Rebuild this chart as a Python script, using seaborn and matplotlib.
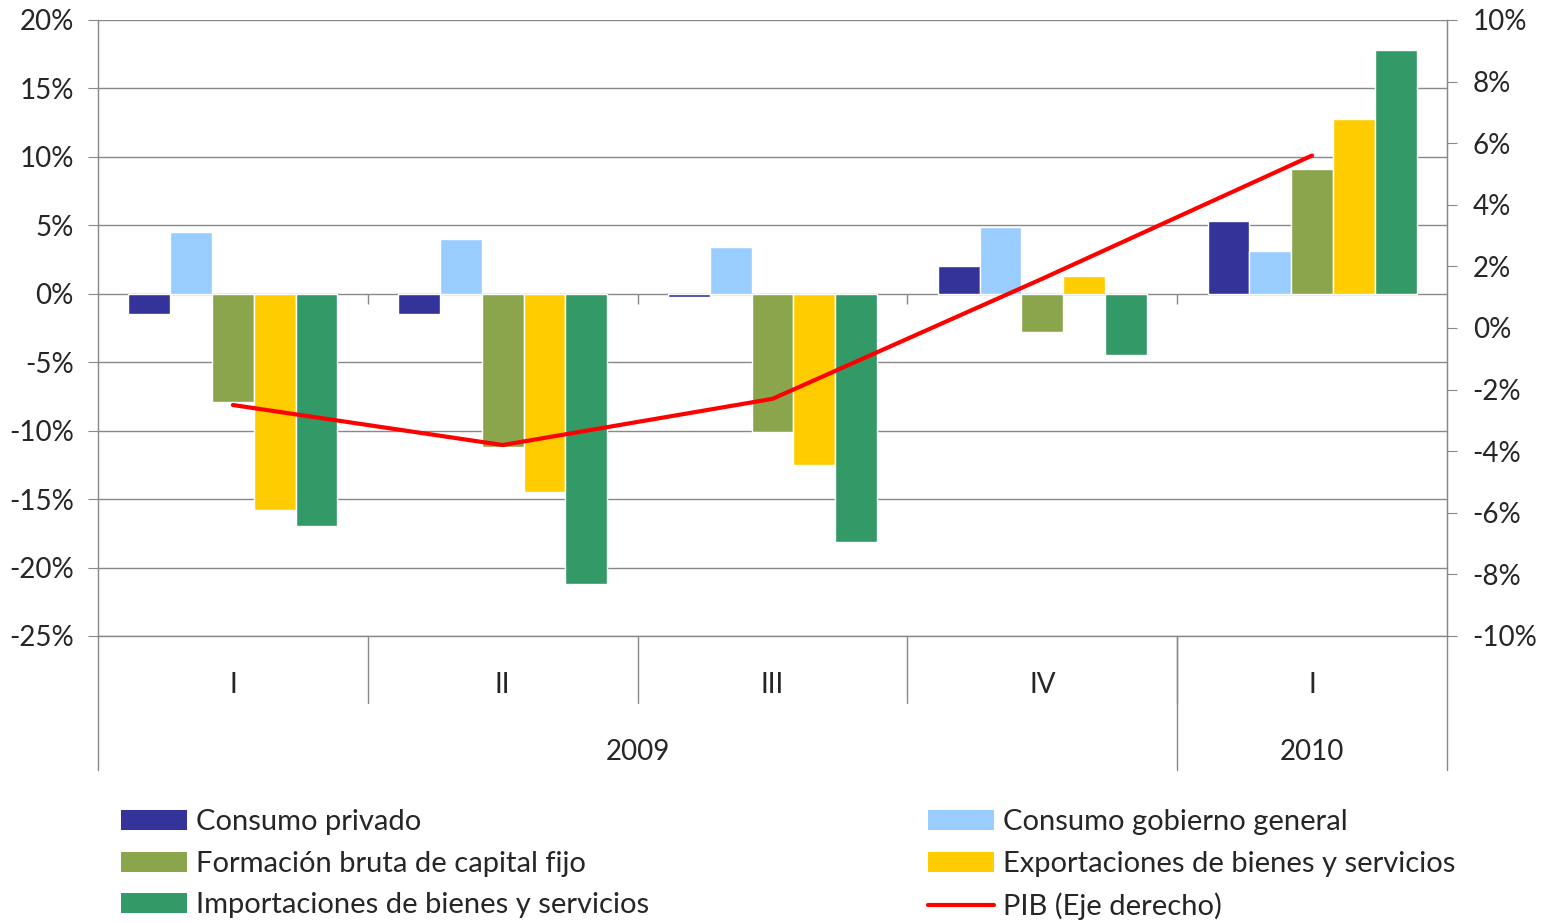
import matplotlib.pyplot as plt
import matplotlib.transforms as mtransforms
from matplotlib.patches import Patch
from matplotlib.lines import Line2D
from matplotlib.ticker import FuncFormatter
import numpy as np
import pandas as pd
import seaborn as sns

# datos (variación %)
trimestres = ["I", "II", "III", "IV", "I"]
anios = ["2009", "2009", "2009", "2009", "2010"]
consumo_privado = [-1.5, -1.5, -0.2, 2.0, 5.3]
consumo_gobierno = [4.5, 4.0, 3.4, 4.9, 3.1]
fbcf = [-7.9, -11.2, -10.1, -2.8, 9.1]
exportaciones = [-15.8, -14.5, -12.5, 1.3, 12.8]
importaciones = [-17.0, -21.2, -18.1, -4.5, 17.8]
pib = [-2.5, -3.8, -2.3, 1.6, 5.6]

series = ["Consumo privado", "Consumo gobierno general", "Formación bruta de capital fijo",
          "Exportaciones de bienes y servicios", "Importaciones de bienes y servicios"]
valores = [consumo_privado, consumo_gobierno, fbcf, exportaciones, importaciones]
colores = ["#333399", "#99CCFF", "#8BA54D", "#FFCC00", "#339966"]

periodos = [f"{a}-{t}" for a, t in zip(anios, trimestres)]
rows = []
for s, vals in zip(series, valores):
    for p, v in zip(periodos, vals):
        rows.append({"periodo": p, "serie": s, "valor": v})
df = pd.DataFrame(rows)

sns.set_style("white")
plt.rcParams["font.family"] = ["Lato", "DejaVu Sans"]
FS = 20
GRIS = "#888888"

fig = plt.figure(figsize=(15.56, 9.23), dpi=100)
ax = fig.add_axes([98 / 1556, 1 - 636 / 923, (1447 - 98) / 1556, (636 - 20) / 923])

sns.barplot(data=df, x="periodo", y="valor", hue="serie", order=periodos, hue_order=series,
            palette=dict(zip(series, colores)), width=0.775, gap=0, saturation=1,
            errorbar=None, legend=False, ax=ax)
ax.set_xlim(-0.5, len(periodos) - 0.5)
ax.set_ylim(-25, 20)
ax.set_yticks(np.arange(-25, 21, 5))
ax.yaxis.set_major_formatter(FuncFormatter(lambda v, _: f"{v:.0f}%"))
ax.set_xticks([])
ax.set_xlabel("")
ax.set_ylabel("")
ax.grid(axis="y", color=GRIS, lw=1)
ax.set_axisbelow(True)
ax.spines["top"].set_visible(False)
for side in ["left", "right", "bottom"]:
    ax.spines[side].set_color(GRIS)
    ax.spines[side].set_linewidth(1)
ax.tick_params(axis="y", labelsize=FS, length=7.5, color=GRIS, pad=10, left=True)

# marcas del eje de categorías en y=0
bordes = np.arange(0.5, len(periodos) - 1, 1)
ax.vlines(bordes, -0.75, 0, color=GRIS, lw=1)

# eje secundario: PIB
ax2 = ax.twinx()
sns.lineplot(x=np.arange(len(pib)), y=pib, color="#FF0000", lw=3, ax=ax2)
ax2.set_ylim(-10, 10)
ax2.set_yticks(np.arange(-10, 11, 2))
ax2.yaxis.set_major_formatter(FuncFormatter(lambda v, _: f"{v:.0f}%"))
ax2.tick_params(axis="y", labelsize=FS, length=7.5, color=GRIS, pad=11, right=True)
for side in ["top", "left", "bottom"]:
    ax2.spines[side].set_visible(False)
ax2.spines["right"].set_color(GRIS)
ax2.set_ylabel("")

# etiquetas de categoría en dos niveles
trans = mtransforms.blended_transform_factory(ax.transData, ax.transAxes)
for i, t in enumerate(trimestres):
    ax.text(i, -0.0795, t, transform=trans, ha="center", va="center", fontsize=FS)
grupos = {}
for i, a in enumerate(anios):
    grupos.setdefault(a, []).append(i)
for a, idx in grupos.items():
    ax.text(np.mean(idx), -0.188, a, transform=trans, ha="center", va="center", fontsize=FS)
for b in bordes:
    ax.plot([b, b], [0, -0.109], transform=trans, color=GRIS, lw=1, clip_on=False)
limites = [-0.5] + [idx[-1] + 0.5 for idx in grupos.values()]
for b in limites:
    ax.plot([b, b], [0, -0.2175], transform=trans, color=GRIS, lw=1, clip_on=False)

# leyenda en dos columnas
LFS = 21
h = [Patch(facecolor=c, edgecolor="none") for c in colores]
pib_h = Line2D([], [], color="#FF0000", lw=3)
kw = dict(frameon=False, fontsize=LFS, handlelength=2.26, handleheight=0.68,
          handletextpad=0.3, labelspacing=0.54, borderaxespad=0, borderpad=0, loc="upper left")
fig.legend([h[0], h[2], h[4]], [series[0], series[2], series[4]],
           bbox_to_anchor=(121 / 1556, 1 - 809 / 923), **kw)
fig.legend([h[1], h[3], pib_h], [series[1], series[3], "PIB (Eje derecho)"],
           bbox_to_anchor=(928 / 1556, 1 - 809 / 923), **kw)

fig.savefig("out.png", dpi=100)
